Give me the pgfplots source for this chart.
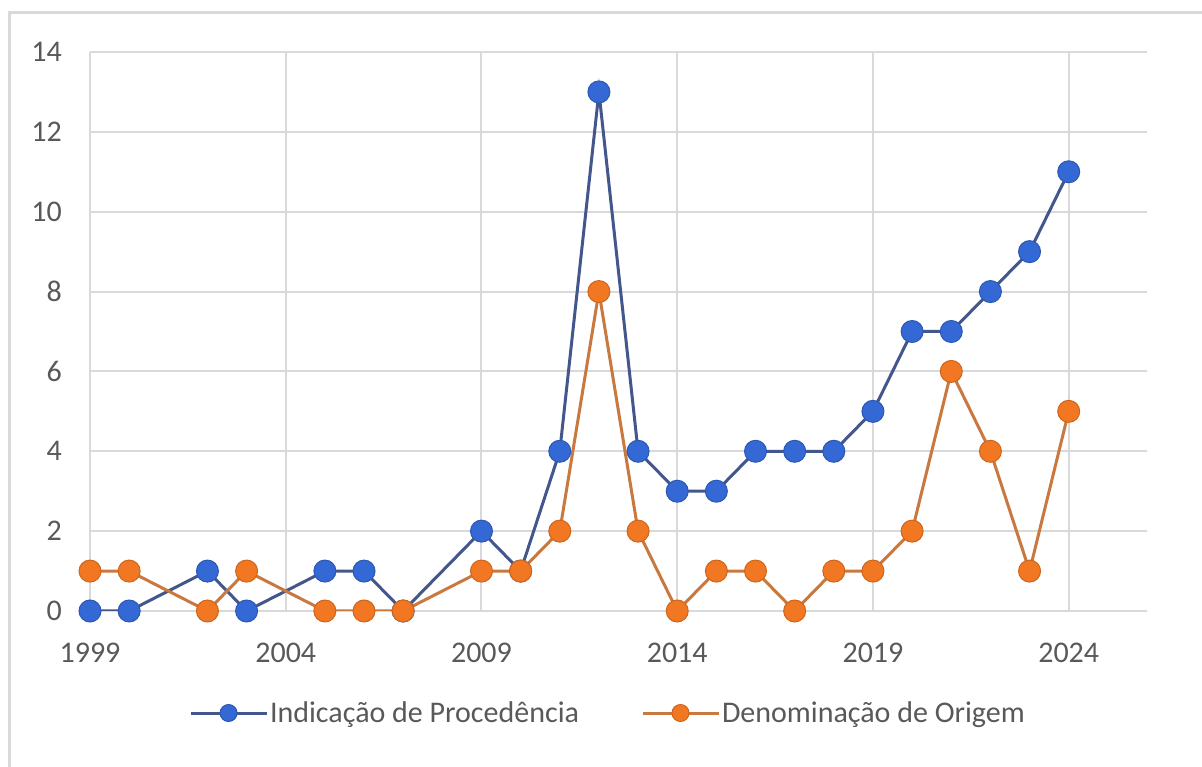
\documentclass[border=0pt]{standalone}
\usepackage{fontspec}
\setmainfont{Carlito}
\usepackage{pgfplots}
\pgfplotsset{compat=1.18}
\definecolor{gridc}{HTML}{D9D9D9}
\definecolor{tickc}{HTML}{595959}
\definecolor{bluem}{HTML}{3468D4}
\definecolor{bluel}{HTML}{44578C}
\definecolor{orm}{HTML}{F27722}
\definecolor{orl}{HTML}{C9783F}
\begin{document}
\begin{tikzpicture}[x=1pt,y=1pt]
\path[use as bounding box] (-90,-156) rectangle (1112,611);
\fill[white] (-90,-156) rectangle (1112,611);
\draw[gridc, line width=3pt] (-80,-160) -- (-80,598) -- (1115,598);
\begin{axis}[
  at={(0pt,0pt)}, anchor=south west,
  scale only axis, width=1057pt, height=559pt,
  xmin=1999, xmax=2026, ymin=0, ymax=14,
  xtick={1999,2004,2009,2014,2019,2024},
  ytick={0,2,4,6,8,10,12,14},
  grid=major, major grid style={gridc, line width=2pt},
  axis line style={draw=none}, tick style={draw=none},
  tick label style={font=\fontsize{30}{36}\selectfont, text=tickc,
    /pgf/number format/assume math mode=true, /pgf/number format/1000 sep={}},
  xticklabel style={anchor=north, inner sep=0pt, yshift=-32pt},
  yticklabel style={anchor=east, inner sep=0pt, xshift=-28pt},
  legend columns=2,
  legend style={at={(0.49,-0.1825)}, anchor=center, draw=none, fill=none,
    font=\fontsize{30}{36}\selectfont, text=tickc,
    /tikz/every even column/.append style={column sep=60pt}},
  legend image code/.code={\draw[#1, mark repeat=2, mark phase=2, mark size=8.5pt] plot coordinates {(0pt,0pt) (38pt,0pt) (76pt,0pt)};},
]
\addplot[bluel, line width=3pt, mark=*, mark size=11pt,
  mark options={fill=bluem, draw=bluem!85!black, line width=1pt}] coordinates {
(1999,0) (2000,0) (2002,1) (2003,0) (2005,1) (2006,1) (2007,0) (2009,2) (2010,1)
(2011,4) (2012,13) (2013,4) (2014,3) (2015,3) (2016,4) (2017,4) (2018,4) (2019,5)
(2020,7) (2021,7) (2022,8) (2023,9) (2024,11)};
\addlegendentry{Indicação de Procedência}
\addplot[orl, line width=3pt, mark=*, mark size=11pt,
  mark options={fill=orm, draw=orm!85!black, line width=1pt}] coordinates {
(1999,1) (2000,1) (2002,0) (2003,1) (2005,0) (2006,0) (2007,0) (2009,1) (2010,1)
(2011,2) (2012,8) (2013,2) (2014,0) (2015,1) (2016,1) (2017,0) (2018,1) (2019,1)
(2020,2) (2021,6) (2022,4) (2023,1) (2024,5)};
\addlegendentry{Denominação de Origem}
\end{axis}
\end{tikzpicture}
\end{document}
